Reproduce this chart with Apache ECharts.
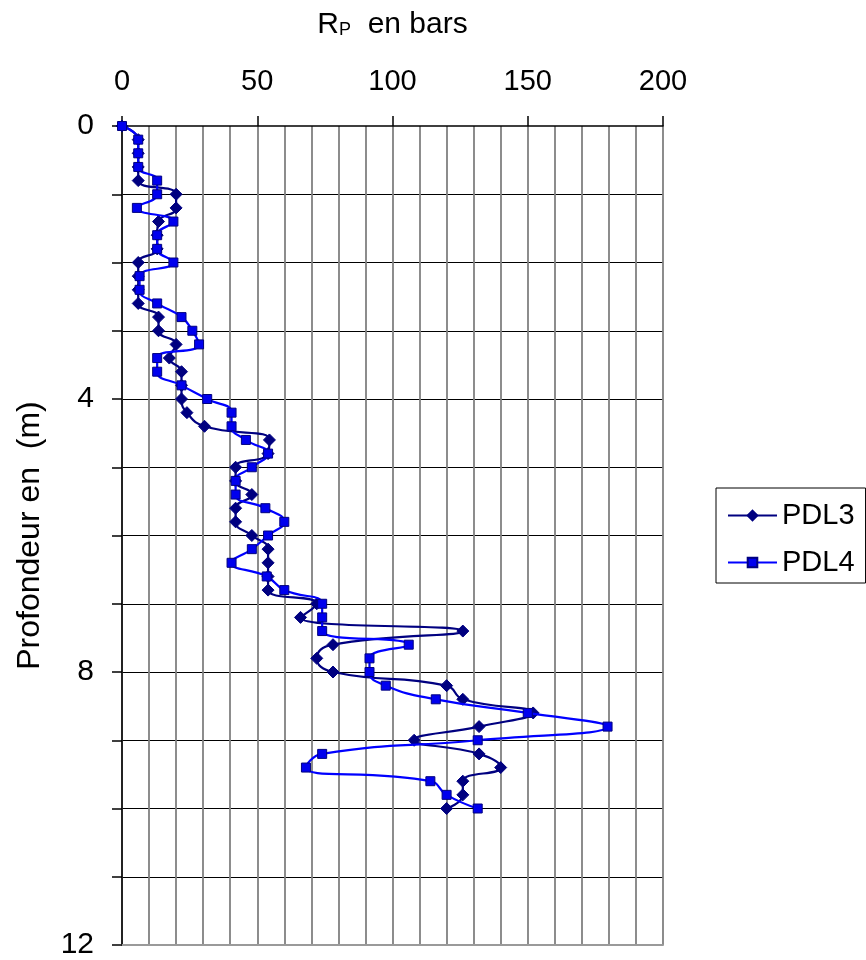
<!DOCTYPE html>
<html>
<head>
<meta charset="utf-8">
<script src="https://cdn.jsdelivr.net/npm/echarts@6/dist/echarts.min.js"></script>
<style>
html,body{margin:0;padding:0;background:#fff;}
#chart{width:866px;height:960px;}
</style>
</head>
<body>
<div id="chart"></div>
<script>
var depths = [0, 0.2, 0.4, 0.6, 0.8, 1.0, 1.2, 1.4, 1.6, 1.8, 2.0, 2.2, 2.4, 2.6, 2.8, 3.0, 3.2, 3.4, 3.6, 3.8,
  4.0, 4.2, 4.4, 4.6, 4.8, 5.0, 5.2, 5.4, 5.6, 5.8, 6.0, 6.2, 6.4, 6.6, 6.8, 7.0, 7.2, 7.4, 7.6, 7.8,
  8.0, 8.2, 8.4, 8.6, 8.8, 9.0, 9.2, 9.4, 9.6, 9.8, 10.0];
var pdl3 = [0, 6, 6, 6, 6, 20, 20, 13.5, 13, 13, 6, 6, 6, 6, 13.5, 13.5, 20, 17.5, 22, 22,
  22, 24, 30.5, 54.5, 54, 42, 42, 48, 42, 42, 48, 54, 54, 54, 54, 72, 66, 126, 78, 72,
  78, 120, 126, 152, 132, 108, 132, 140, 126, 126, 120];
var pdl4 = [0, 6, 6, 6, 13, 13, 5.5, 19, 13, 13, 19, 6.5, 6.5, 13, 22, 26, 28.5, 13, 13, 22,
  31.5, 40.5, 40.5, 45.8, 54, 48, 42, 42, 53, 60, 54, 48, 40.5, 53.5, 60, 74, 74, 74, 106, 91.5,
  91.5, 97.5, 116, 150, 179.5, 131.5, 74, 68, 114, 120, 131.5];
var xTicks = [0, 50, 100, 150, 200];
var yLabelTicks = [0, 4, 8, 12];
var seriesNames = ['PDL3', 'PDL4'];

function pairs(vals) {
  return vals.map(function (v, i) { return [v, depths[i]]; });
}

var FONT = 'Liberation Sans, Arial, sans-serif';
var chart = echarts.init(document.getElementById('chart'), null, {renderer: 'canvas'});
chart.setOption({
  backgroundColor: '#fff',
  animation: false,
  textStyle: {fontFamily: FONT, color: '#000'},
  grid: {left: 122, right: 203, top: 126, bottom: 13},
  legend: {
    orient: 'vertical',
    left: 716,
    top: 488,
    padding: [13, 11, 6, 11],
    itemGap: 18,
    itemWidth: 49,
    itemHeight: 12,
    borderColor: '#000',
    borderWidth: 1,
    textStyle: {fontSize: 29, color: '#000', fontFamily: FONT, padding: [0, 0, 0, 0]},
    data: seriesNames
  },
  xAxis: [{
    type: 'value',
    position: 'top',
    min: xTicks[0],
    max: xTicks[xTicks.length - 1],
    interval: 50,
    name: 'R{s|P}  en bars',
    nameLocation: 'middle',
    nameGap: 86,
    nameTextStyle: {fontSize: 30, color: '#000', fontFamily: FONT,
      rich: {s: {fontSize: 18, color: '#000', fontFamily: FONT, padding: [10, 0, 0, 0]}}},
    axisLine: {show: true, lineStyle: {color: '#000', width: 1.5}},
    axisTick: {show: true, inside: false, length: 10, lineStyle: {color: '#000', width: 1.5}},
    axisLabel: {fontSize: 29, color: '#000', margin: 30, fontFamily: FONT},
    splitLine: {show: true, lineStyle: {color: '#808080', width: 1.8}},
    minorTick: {show: false, splitNumber: 5},
    minorSplitLine: {show: true, lineStyle: {color: '#808080', width: 1.8}}
  }, {
    type: 'value',
    position: 'bottom',
    min: 0, max: 200,
    axisLine: {show: true, onZero: false, lineStyle: {color: '#9a9a9a', width: 2}},
    axisTick: {show: false},
    axisLabel: {show: false},
    splitLine: {show: false}
  }],
  yAxis: {
    type: 'value',
    inverse: true,
    min: 0,
    max: 12,
    interval: 1,
    name: 'Profondeur en  (m)',
    nameLocation: 'middle',
    nameGap: 76,
    nameTextStyle: {fontSize: 32, color: '#000', fontFamily: FONT},
    axisLine: {show: true, onZero: false, lineStyle: {color: '#000', width: 1.5}},
    axisTick: {show: true, inside: false, length: 10, lineStyle: {color: '#000', width: 1.5}},
    axisLabel: {
      fontSize: 30, color: '#000', margin: 28, fontFamily: FONT,
      formatter: function (v) { return yLabelTicks.indexOf(v) >= 0 ? String(v) : ''; }
    },
    splitLine: {show: true, showMinLine: false, showMaxLine: false, lineStyle: {color: '#000', width: 1}}
  },
  series: [{
    name: seriesNames[0],
    type: 'line',
    data: pairs(pdl3),
    smooth: 0.5,
    symbol: 'diamond',
    symbolSize: 12,
    lineStyle: {color: '#000080', width: 2.2},
    itemStyle: {color: '#000080', borderColor: '#000080', borderWidth: 1},
    z: 3
  }, {
    name: seriesNames[1],
    type: 'line',
    data: pairs(pdl4),
    smooth: 0.5,
    symbol: 'rect',
    symbolSize: 9,
    lineStyle: {color: '#0000ff', width: 2.2},
    itemStyle: {color: '#0000ee', borderColor: '#000080', borderWidth: 1},
    z: 4
  }]
});
</script>
</body>
</html>
